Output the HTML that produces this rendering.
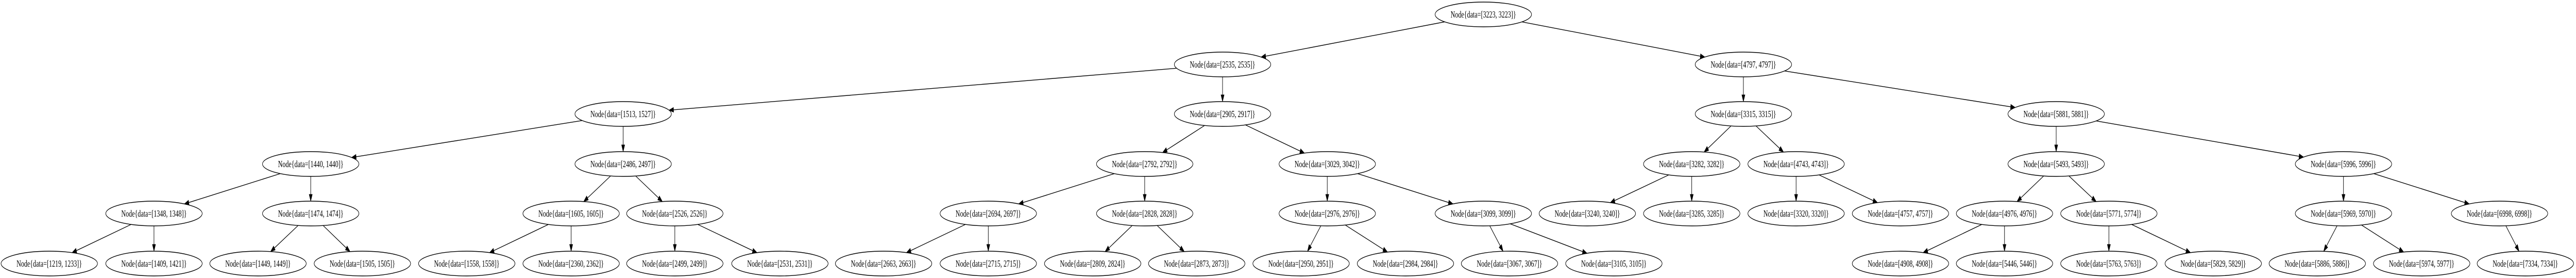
<!DOCTYPE html>
<html><head><meta charset="utf-8">
<style>
html,body{margin:0;padding:0;background:#fff;width:100%;height:100%;overflow:hidden;}
svg{display:block;position:absolute;left:0;top:0;width:100vw;height:100vh;}
text{font-family:"Liberation Serif","Times New Roman",serif;font-size:18px;fill:#000;}
</style></head>
<body>
<svg id="g" viewBox="0 0 7478 539" preserveAspectRatio="none" xmlns="http://www.w3.org/2000/svg">
<g id="edges" stroke="#000" stroke-width="1.4" fill="none"></g>
<g id="arrows" fill="#000" stroke="#000" stroke-width="1"></g>
<g id="nodes" fill="#fff" stroke="#000" stroke-width="1.4">
<ellipse cx="4306" cy="28" rx="140" ry="24"/>
<ellipse cx="3549" cy="125" rx="140" ry="24"/>
<ellipse cx="5061" cy="125" rx="140" ry="24"/>
<ellipse cx="1809" cy="221" rx="140" ry="24"/>
<ellipse cx="3549" cy="221" rx="140" ry="24"/>
<ellipse cx="5061" cy="221" rx="140" ry="24"/>
<ellipse cx="5969" cy="221" rx="140" ry="24"/>
<ellipse cx="902" cy="318" rx="140" ry="24"/>
<ellipse cx="1809" cy="318" rx="140" ry="24"/>
<ellipse cx="3323" cy="318" rx="140" ry="24"/>
<ellipse cx="3853" cy="318" rx="140" ry="24"/>
<ellipse cx="4911" cy="318" rx="140" ry="24"/>
<ellipse cx="5214" cy="318" rx="140" ry="24"/>
<ellipse cx="5969" cy="318" rx="140" ry="24"/>
<ellipse cx="6803" cy="318" rx="140" ry="24"/>
<ellipse cx="447" cy="414" rx="140" ry="24"/>
<ellipse cx="902" cy="414" rx="140" ry="24"/>
<ellipse cx="1658" cy="414" rx="140" ry="24"/>
<ellipse cx="1959" cy="414" rx="140" ry="24"/>
<ellipse cx="2869" cy="414" rx="140" ry="24"/>
<ellipse cx="3323" cy="414" rx="140" ry="24"/>
<ellipse cx="3853" cy="414" rx="140" ry="24"/>
<ellipse cx="4306" cy="414" rx="140" ry="24"/>
<ellipse cx="4608" cy="414" rx="140" ry="24"/>
<ellipse cx="4911" cy="414" rx="140" ry="24"/>
<ellipse cx="5214" cy="414" rx="140" ry="24"/>
<ellipse cx="5517" cy="414" rx="140" ry="24"/>
<ellipse cx="5819" cy="414" rx="140" ry="24"/>
<ellipse cx="6122" cy="414" rx="140" ry="24"/>
<ellipse cx="6803" cy="414" rx="140" ry="24"/>
<ellipse cx="7256" cy="414" rx="140" ry="24"/>
<ellipse cx="143" cy="511" rx="140" ry="24"/>
<ellipse cx="447" cy="511" rx="140" ry="24"/>
<ellipse cx="749" cy="511" rx="140" ry="24"/>
<ellipse cx="1052" cy="511" rx="140" ry="24"/>
<ellipse cx="1355" cy="511" rx="140" ry="24"/>
<ellipse cx="1658" cy="511" rx="140" ry="24"/>
<ellipse cx="1959" cy="511" rx="140" ry="24"/>
<ellipse cx="2264" cy="511" rx="140" ry="24"/>
<ellipse cx="2565" cy="511" rx="140" ry="24"/>
<ellipse cx="2869" cy="511" rx="140" ry="24"/>
<ellipse cx="3172" cy="511" rx="140" ry="24"/>
<ellipse cx="3474" cy="511" rx="140" ry="24"/>
<ellipse cx="3777" cy="511" rx="140" ry="24"/>
<ellipse cx="4080" cy="511" rx="140" ry="24"/>
<ellipse cx="4382" cy="511" rx="140" ry="24"/>
<ellipse cx="4685" cy="511" rx="140" ry="24"/>
<ellipse cx="5517" cy="511" rx="140" ry="24"/>
<ellipse cx="5819" cy="511" rx="140" ry="24"/>
<ellipse cx="6122" cy="511" rx="140" ry="24"/>
<ellipse cx="6425" cy="511" rx="140" ry="24"/>
<ellipse cx="6727" cy="511" rx="140" ry="24"/>
<ellipse cx="7030" cy="511" rx="140" ry="24"/>
<ellipse cx="7331" cy="511" rx="140" ry="24"/>
</g>
<g text-anchor="middle">
<text x="4306" y="34" textLength="190" lengthAdjust="spacingAndGlyphs">Node{data=[3223, 3223]}</text>
<text x="3549" y="131" textLength="190" lengthAdjust="spacingAndGlyphs">Node{data=[2535, 2535]}</text>
<text x="5061" y="131" textLength="190" lengthAdjust="spacingAndGlyphs">Node{data=[4797, 4797]}</text>
<text x="1809" y="227" textLength="190" lengthAdjust="spacingAndGlyphs">Node{data=[1513, 1527]}</text>
<text x="3549" y="227" textLength="190" lengthAdjust="spacingAndGlyphs">Node{data=[2905, 2917]}</text>
<text x="5061" y="227" textLength="190" lengthAdjust="spacingAndGlyphs">Node{data=[3315, 3315]}</text>
<text x="5969" y="227" textLength="190" lengthAdjust="spacingAndGlyphs">Node{data=[5881, 5881]}</text>
<text x="902" y="324" textLength="190" lengthAdjust="spacingAndGlyphs">Node{data=[1440, 1440]}</text>
<text x="1809" y="324" textLength="190" lengthAdjust="spacingAndGlyphs">Node{data=[2486, 2497]}</text>
<text x="3323" y="324" textLength="190" lengthAdjust="spacingAndGlyphs">Node{data=[2792, 2792]}</text>
<text x="3853" y="324" textLength="190" lengthAdjust="spacingAndGlyphs">Node{data=[3029, 3042]}</text>
<text x="4911" y="324" textLength="190" lengthAdjust="spacingAndGlyphs">Node{data=[3282, 3282]}</text>
<text x="5214" y="324" textLength="190" lengthAdjust="spacingAndGlyphs">Node{data=[4743, 4743]}</text>
<text x="5969" y="324" textLength="190" lengthAdjust="spacingAndGlyphs">Node{data=[5493, 5493]}</text>
<text x="6803" y="324" textLength="190" lengthAdjust="spacingAndGlyphs">Node{data=[5996, 5996]}</text>
<text x="447" y="420" textLength="190" lengthAdjust="spacingAndGlyphs">Node{data=[1348, 1348]}</text>
<text x="902" y="420" textLength="190" lengthAdjust="spacingAndGlyphs">Node{data=[1474, 1474]}</text>
<text x="1658" y="420" textLength="190" lengthAdjust="spacingAndGlyphs">Node{data=[1605, 1605]}</text>
<text x="1959" y="420" textLength="190" lengthAdjust="spacingAndGlyphs">Node{data=[2526, 2526]}</text>
<text x="2869" y="420" textLength="190" lengthAdjust="spacingAndGlyphs">Node{data=[2694, 2697]}</text>
<text x="3323" y="420" textLength="190" lengthAdjust="spacingAndGlyphs">Node{data=[2828, 2828]}</text>
<text x="3853" y="420" textLength="190" lengthAdjust="spacingAndGlyphs">Node{data=[2976, 2976]}</text>
<text x="4306" y="420" textLength="190" lengthAdjust="spacingAndGlyphs">Node{data=[3099, 3099]}</text>
<text x="4608" y="420" textLength="190" lengthAdjust="spacingAndGlyphs">Node{data=[3240, 3240]}</text>
<text x="4911" y="420" textLength="190" lengthAdjust="spacingAndGlyphs">Node{data=[3285, 3285]}</text>
<text x="5214" y="420" textLength="190" lengthAdjust="spacingAndGlyphs">Node{data=[3320, 3320]}</text>
<text x="5517" y="420" textLength="190" lengthAdjust="spacingAndGlyphs">Node{data=[4757, 4757]}</text>
<text x="5819" y="420" textLength="190" lengthAdjust="spacingAndGlyphs">Node{data=[4976, 4976]}</text>
<text x="6122" y="420" textLength="190" lengthAdjust="spacingAndGlyphs">Node{data=[5771, 5774]}</text>
<text x="6803" y="420" textLength="190" lengthAdjust="spacingAndGlyphs">Node{data=[5969, 5970]}</text>
<text x="7256" y="420" textLength="190" lengthAdjust="spacingAndGlyphs">Node{data=[6998, 6998]}</text>
<text x="143" y="517" textLength="190" lengthAdjust="spacingAndGlyphs">Node{data=[1219, 1233]}</text>
<text x="447" y="517" textLength="190" lengthAdjust="spacingAndGlyphs">Node{data=[1409, 1421]}</text>
<text x="749" y="517" textLength="190" lengthAdjust="spacingAndGlyphs">Node{data=[1449, 1449]}</text>
<text x="1052" y="517" textLength="190" lengthAdjust="spacingAndGlyphs">Node{data=[1505, 1505]}</text>
<text x="1355" y="517" textLength="190" lengthAdjust="spacingAndGlyphs">Node{data=[1558, 1558]}</text>
<text x="1658" y="517" textLength="190" lengthAdjust="spacingAndGlyphs">Node{data=[2360, 2362]}</text>
<text x="1959" y="517" textLength="190" lengthAdjust="spacingAndGlyphs">Node{data=[2499, 2499]}</text>
<text x="2264" y="517" textLength="190" lengthAdjust="spacingAndGlyphs">Node{data=[2531, 2531]}</text>
<text x="2565" y="517" textLength="190" lengthAdjust="spacingAndGlyphs">Node{data=[2663, 2663]}</text>
<text x="2869" y="517" textLength="190" lengthAdjust="spacingAndGlyphs">Node{data=[2715, 2715]}</text>
<text x="3172" y="517" textLength="190" lengthAdjust="spacingAndGlyphs">Node{data=[2809, 2824]}</text>
<text x="3474" y="517" textLength="190" lengthAdjust="spacingAndGlyphs">Node{data=[2873, 2873]}</text>
<text x="3777" y="517" textLength="190" lengthAdjust="spacingAndGlyphs">Node{data=[2950, 2951]}</text>
<text x="4080" y="517" textLength="190" lengthAdjust="spacingAndGlyphs">Node{data=[2984, 2984]}</text>
<text x="4382" y="517" textLength="190" lengthAdjust="spacingAndGlyphs">Node{data=[3067, 3067]}</text>
<text x="4685" y="517" textLength="190" lengthAdjust="spacingAndGlyphs">Node{data=[3105, 3105]}</text>
<text x="5517" y="517" textLength="190" lengthAdjust="spacingAndGlyphs">Node{data=[4908, 4908]}</text>
<text x="5819" y="517" textLength="190" lengthAdjust="spacingAndGlyphs">Node{data=[5446, 5446]}</text>
<text x="6122" y="517" textLength="190" lengthAdjust="spacingAndGlyphs">Node{data=[5763, 5763]}</text>
<text x="6425" y="517" textLength="190" lengthAdjust="spacingAndGlyphs">Node{data=[5829, 5829]}</text>
<text x="6727" y="517" textLength="190" lengthAdjust="spacingAndGlyphs">Node{data=[5886, 5886]}</text>
<text x="7030" y="517" textLength="190" lengthAdjust="spacingAndGlyphs">Node{data=[5974, 5977]}</text>
<text x="7331" y="517" textLength="190" lengthAdjust="spacingAndGlyphs">Node{data=[7334, 7334]}</text>
</g>
</svg>
<script>
(function(){
var L=[28,125,221,318,414,511];
var E=[
[4306,0,3549],[4306,0,5061],
[3549,1,1809],[3549,1,3549],[5061,1,5061],[5061,1,5969],
[1809,2,902],[1809,2,1809],[3549,2,3323],[3549,2,3853],[5061,2,4911],[5061,2,5214],[5969,2,5969],[5969,2,6803],
[902,3,447],[902,3,902],[1809,3,1658],[1809,3,1959],[3323,3,2869],[3323,3,3323],[3853,3,3853],[3853,3,4306],
[4911,3,4608],[4911,3,4911],[5214,3,5214],[5214,3,5517],[5969,3,5819],[5969,3,6122],[6803,3,6803],[6803,3,7256],
[447,4,143],[447,4,447],[902,4,749],[902,4,1052],[1658,4,1355],[1658,4,1658],[1959,4,1959],[1959,4,2264],
[2869,4,2565],[2869,4,2869],[3323,4,3172],[3323,4,3474],[3853,4,3777],[3853,4,4080],[4306,4,4382],[4306,4,4685],
[5819,4,5517],[5819,4,5819],[6122,4,6122],[6122,4,6425],[6803,4,6727],[6803,4,7030],[7256,4,7331]
];
var NS="http://www.w3.org/2000/svg",rx=140,ry=24;
var eg=document.getElementById('edges'),ag=document.getElementById('arrows');
function bd(dx,dy){return 1/Math.sqrt((dx/rx)*(dx/rx)+(dy/ry)*(dy/ry));}
E.forEach(function(e){
 var x1=e[0],y1=L[e[1]],x2=e[2],y2=L[e[1]+1];
 var dx=x2-x1,dy=y2-y1,len=Math.sqrt(dx*dx+dy*dy),ux=dx/len,uy=dy/len;
 var t=bd(ux,uy);
 var sx=x1+ux*t,sy=y1+uy*t,tx=x2-ux*t,ty=y2-uy*t;
 var ah=13,aw=4.5;
 var bx=tx-ux*ah,by=ty-uy*ah;
 var l=document.createElementNS(NS,'line');
 l.setAttribute('x1',sx);l.setAttribute('y1',sy);l.setAttribute('x2',bx);l.setAttribute('y2',by);
 eg.appendChild(l);
 var p=document.createElementNS(NS,'polygon');
 p.setAttribute('points',tx+','+ty+' '+(bx-uy*aw)+','+(by+ux*aw)+' '+(bx+uy*aw)+','+(by-ux*aw));
 ag.appendChild(p);
});
})();
</script>
</body></html>
